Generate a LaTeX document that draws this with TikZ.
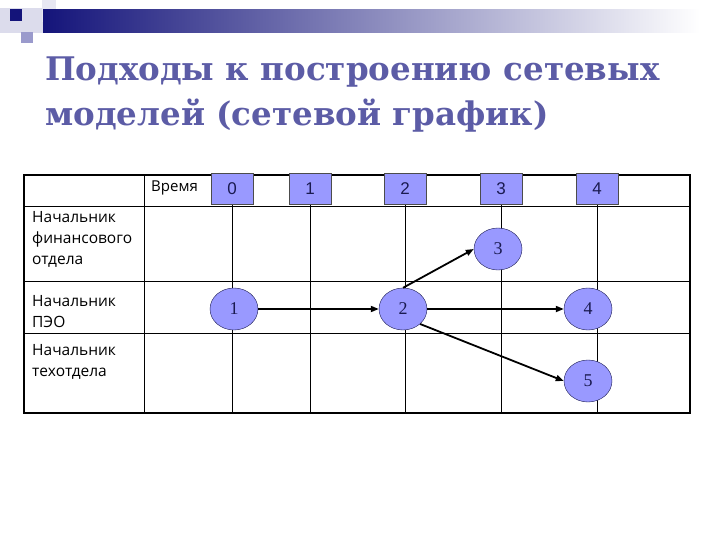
\documentclass[tikz,border=0pt]{standalone}
\usepackage{fontspec}
\setmainfont{Open Sans}
\newfontfamily\titlefont{DejaVu Serif}
\newfontfamily\numfont{Liberation Sans}
\newfontfamily\eventfont{Liberation Serif}
\usetikzlibrary{arrows.meta,positioning,calc,shapes.geometric}
\definecolor{navy}{HTML}{14147A}
\definecolor{lavender}{HTML}{9999FF}
\definecolor{titleblue}{HTML}{5C5CA6}
\definecolor{inkblue}{HTML}{1A1A50}
\definecolor{paleblue}{HTML}{DCDCEC}
\definecolor{midlav}{HTML}{9A9ACC}
\tikzset{
  title/.style={font=\titlefont\bfseries\fontsize{32.5}{45}\selectfont,anchor=base west,align=left,inner sep=0pt},
  rowlabel/.style={font=\fontsize{15.5}{21}\selectfont,anchor=north west,align=left,inner sep=0pt},
  timebox/.style={draw=gray!60!black,fill=lavender,minimum width=42pt,minimum height=31pt,inner sep=0pt,font=\numfont\fontsize{17}{19}\selectfont,text=inkblue},
  event/.style={ellipse,draw=inkblue,fill=lavender,minimum width=48pt,minimum height=42pt,inner sep=0pt,font=\eventfont\fontsize{18}{20}\selectfont,text=inkblue},
  gridline/.style={line width=0.9pt},
  frame/.style={line width=2.2pt},
  arr/.style={-{Triangle[length=8pt,width=6pt]},line width=1.8pt}
}
\begin{document}
\begin{tikzpicture}[x=1pt,y=-1pt]
\path[use as bounding box,fill=white] (0,0) rectangle (720,540);
% top decoration
\fill[paleblue] (0,8) rectangle (43,33);
\fill[paleblue!70] (42,0) rectangle (56,22);
\fill[navy] (10,9) rectangle (22,21);
\fill[midlav] (21,32) rectangle (33,43);
\shade[left color=navy,right color=white] (43,10) rectangle (700,33);
% title
\node[title,text=titleblue] (titletext) at (45,126) {Подходы к построению сетевых\\моделей (сетевой график)};
% table
\coordinate (tl) at (24,175);
\coordinate (br) at (690,413);
\draw[gridline] (144,175) -- (144,413);
\draw[gridline] (24,206) -- (690,206);
\draw[gridline] (24,281) -- (690,281);
\draw[gridline] (24,333) -- (690,333);
\node[font=\fontsize{15}{17}\selectfont,anchor=west,inner sep=0pt] (vremya) at (151,188) {Время};
\foreach \t/\x in {0/232,1/310,2/405,3/501,4/597}{
  \node[timebox] (t\t) at (\x,188.5) {\t};
  \draw[gridline] (t\t.south) -- (t\t.south |- br);
}
\draw[frame] (tl) rectangle (br);
\foreach \t in {0,...,4}{
  \node[timebox] at (t\t) {\t};
}
\node[rowlabel] (lab1) at (32,211) {Начальник\\финансового\\отдела};
\node[rowlabel] (lab2) at (32,295) {Начальник\\ПЭО};
\node[rowlabel] (lab3) at (32,344) {Начальник\\техотдела};
% events
\node[event] (n1) at (234,309) {1};
\node[event] (n2) at (403,309) {2};
\node[event] (n3) at (498,249) {3};
\node[event] (n4) at (588,309) {4};
\node[event] (n5) at (588,381) {5};
\draw[arr] (n1) -- (n2);
\draw[arr] (n2.north) -- (n3.west);
\draw[arr] (n2) -- (n4);
\draw[arr] (n2.south east) -- (n5.west);
\end{tikzpicture}
\end{document}
